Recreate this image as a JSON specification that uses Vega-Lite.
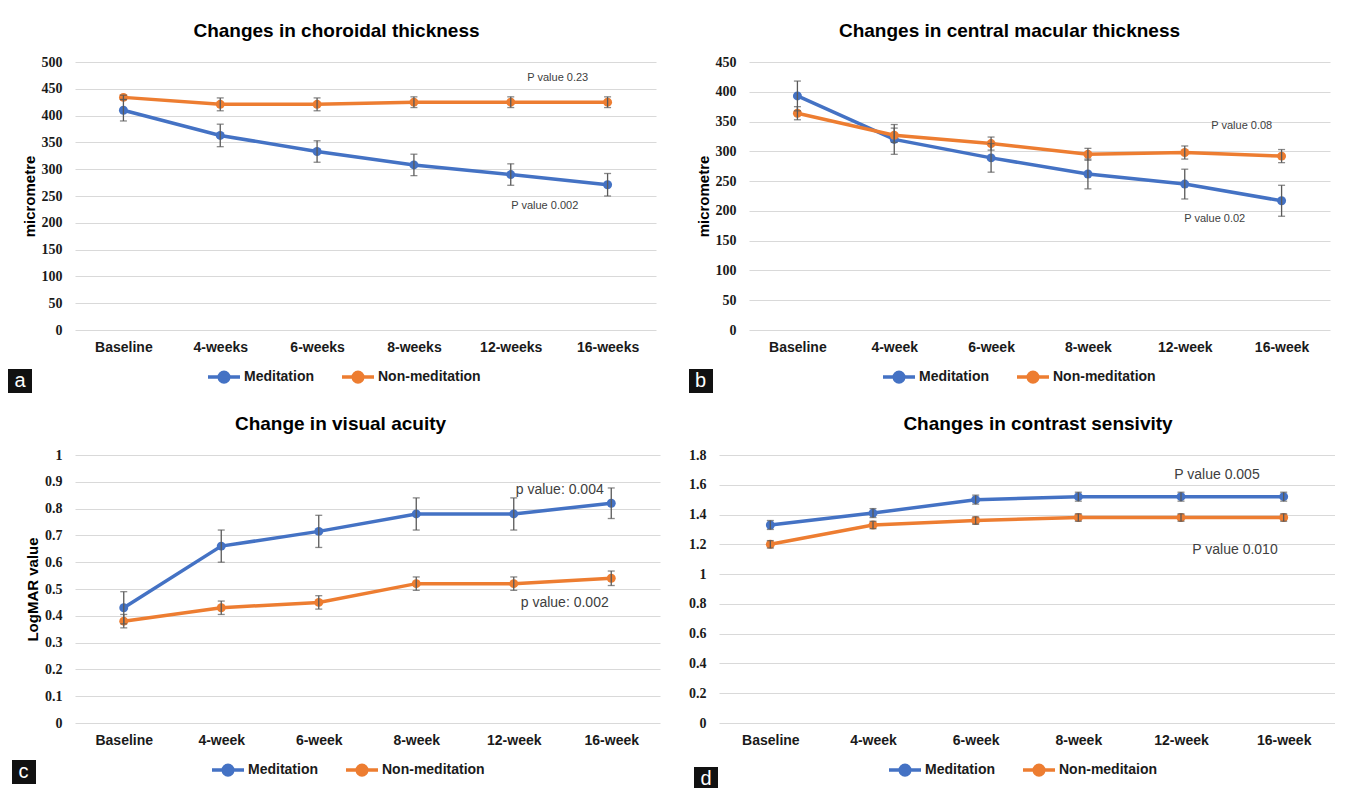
{
  "$schema": "https://vega.github.io/schema/vega-lite/v6.json",
  "background": "white",
  "padding": {"left": 8, "top": 22, "right": 0, "bottom": 0},
  "spacing": 22,
  "config": {
    "font": "Liberation Sans",
    "view": {"stroke": null},
    "title": {"fontSize": 19, "font": "Liberation Sans", "fontWeight": "bold", "color": "#000000", "anchor": "middle", "offset": 14},
    "axisY": {"labelFont": "Liberation Serif", "labelFontWeight": "bold", "labelFontSize": 14, "labelColor": "#1a1a1a", "domain": false, "ticks": false, "labelPadding": 13, "gridColor": "#D9D9D9", "gridWidth": 1.2, "titleFont": "Liberation Sans", "titleFontSize": 15, "titleFontWeight": "bold", "titleColor": "#000000", "titlePadding": 4},
    "axisX": {"labelFont": "Liberation Sans", "labelFontWeight": "bold", "labelFontSize": 14, "labelColor": "#1a1a1a", "labelAngle": 0, "domain": false, "ticks": false, "grid": false, "labelPadding": 10, "title": null}
  },
  "resolve": {"scale": {"color": "independent", "opacity": "independent", "x": "independent", "y": "independent"}, "legend": {"color": "independent", "opacity": "independent"}},
  "vconcat": [
    {
      "spacing": 33,
      "resolve": {"scale": {"color": "independent", "opacity": "independent", "x": "independent", "y": "independent"}, "legend": {"color": "independent", "opacity": "independent"}},
      "hconcat": [
        {
          "width": 581, "height": 268,
          "title": {"text": "Changes in choroidal thickness", "dx": -29},
          "data": {"values": [
            {"t": "Baseline", "g": "Meditation", "v": 410, "e": 20, "p": "a"},
            {"t": "4-weeks", "g": "Meditation", "v": 363, "e": 21, "p": "a"},
            {"t": "6-weeks", "g": "Meditation", "v": 333, "e": 20, "p": "a"},
            {"t": "8-weeks", "g": "Meditation", "v": 308, "e": 20, "p": "a"},
            {"t": "12-weeks", "g": "Meditation", "v": 290, "e": 20, "p": "a"},
            {"t": "16-weeks", "g": "Meditation", "v": 271, "e": 21, "p": "a"},
            {"t": "Baseline", "g": "Non-meditation", "v": 434, "e": 4, "p": "a"},
            {"t": "4-weeks", "g": "Non-meditation", "v": 421, "e": 12, "p": "a"},
            {"t": "6-weeks", "g": "Non-meditation", "v": 421, "e": 12, "p": "a"},
            {"t": "8-weeks", "g": "Non-meditation", "v": 425, "e": 10, "p": "a"},
            {"t": "12-weeks", "g": "Non-meditation", "v": 425, "e": 10, "p": "a"},
            {"t": "16-weeks", "g": "Non-meditation", "v": 425, "e": 10, "p": "a"}
          ]},
          "encoding": {
            "x": {"field": "t", "type": "nominal", "sort": ["Baseline", "4-weeks", "6-weeks", "8-weeks", "12-weeks", "16-weeks"], "scale": {"type": "point", "padding": 0.5}},
            "y": {"field": "v", "type": "quantitative", "scale": {"domain": [0, 500]}, "axis": {"title": "micrometre", "values": [0, 50, 100, 150, 200, 250, 300, 350, 400, 450, 500]}}
          },
          "layer": [
            {"mark": {"type": "line", "strokeWidth": 3.5}, "encoding": {"color": {"field": "g", "type": "nominal", "scale": {"domain": ["Meditation", "Non-meditation"], "range": ["#4472C4", "#ED7D31"]}, "legend": {"orient": "none", "legendX": 131, "legendY": 297, "direction": "horizontal", "title": null, "symbolType": "M-1,0L1,0M-0.3,0A0.3,0.3,0,1,1,0.3,0A0.3,0.3,0,1,1,-0.3,0Z", "symbolSize": 1024, "symbolStrokeWidth": 3.5, "symbolOpacity": 1, "labelFontSize": 14, "labelFontWeight": "bold", "labelFont": "Liberation Sans", "labelColor": "#1a1a1a", "labelOffset": 2, "columnPadding": 21, "padding": 0, "encode": {"symbols": {"update": {"opacity": {"value": 1}}}}}}}},
            {"mark": {"type": "point", "filled": true, "size": 80, "opacity": 1}, "encoding": {"color": {"field": "g", "type": "nominal", "scale": {"domain": ["Meditation", "Non-meditation"], "range": ["#4472C4", "#ED7D31"]}, "legend": {"orient": "none", "legendX": 131, "legendY": 297, "direction": "horizontal", "title": null, "symbolType": "M-1,0L1,0M-0.3,0A0.3,0.3,0,1,1,0.3,0A0.3,0.3,0,1,1,-0.3,0Z", "symbolSize": 1024, "symbolStrokeWidth": 3.5, "symbolOpacity": 1, "labelFontSize": 14, "labelFontWeight": "bold", "labelFont": "Liberation Sans", "labelColor": "#1a1a1a", "labelOffset": 2, "columnPadding": 21, "padding": 0, "encode": {"symbols": {"update": {"opacity": {"value": 1}}}}}}, "opacity": {"field": "p", "type": "ordinal", "scale": {"range": [1, 1]}, "legend": {"orient": "none", "legendX": -67, "legendY": 307, "title": null, "symbolType": "square", "symbolSize": 576, "symbolFillColor": "#111111", "symbolStrokeColor": "#111111", "symbolStrokeWidth": 0, "labelOffset": -17.5, "padding": 0, "labelColor": "#ffffff", "labelFontSize": 20, "labelFont": "Liberation Sans", "encode": {"symbols": {"update": {"fill": {"value": "#111111"}, "stroke": {"value": "#111111"}, "opacity": {"value": 1}, "size": {"value": 576}, "shape": {"value": "square"}}}}}}}},
            {"mark": {"type": "errorbar", "ticks": true, "color": "#595959", "thickness": 1.3, "size": 7}, "encoding": {"yError": {"field": "e"}}},
            {"data": {"values": [{"t": "12-weeks", "v": 470, "label": "P value 0.23"}]}, "mark": {"type": "text", "dx": 47, "align": "center", "baseline": "middle", "fontSize": 11, "color": "#404040"}, "encoding": {"text": {"field": "label"}}},
            {"data": {"values": [{"t": "12-weeks", "v": 231, "label": "P value 0.002"}]}, "mark": {"type": "text", "dx": 34, "align": "center", "baseline": "middle", "fontSize": 11, "color": "#404040"}, "encoding": {"text": {"field": "label"}}}
          ]
        },
        {
          "width": 581, "height": 268,
          "title": {"text": "Changes in central macular thickness", "dx": -30},
          "data": {"values": [
            {"t": "Baseline", "g": "Meditation", "v": 393, "e": 25, "p": "b"},
            {"t": "4-week", "g": "Meditation", "v": 320, "e": 25, "p": "b"},
            {"t": "6-week", "g": "Meditation", "v": 289, "e": 24, "p": "b"},
            {"t": "8-week", "g": "Meditation", "v": 262, "e": 25, "p": "b"},
            {"t": "12-week", "g": "Meditation", "v": 245, "e": 25, "p": "b"},
            {"t": "16-week", "g": "Meditation", "v": 217, "e": 26, "p": "b"},
            {"t": "Baseline", "g": "Non-meditation", "v": 364, "e": 11, "p": "b"},
            {"t": "4-week", "g": "Non-meditation", "v": 327, "e": 12, "p": "b"},
            {"t": "6-week", "g": "Non-meditation", "v": 313, "e": 11, "p": "b"},
            {"t": "8-week", "g": "Non-meditation", "v": 295, "e": 10, "p": "b"},
            {"t": "12-week", "g": "Non-meditation", "v": 298, "e": 11, "p": "b"},
            {"t": "16-week", "g": "Non-meditation", "v": 292, "e": 11, "p": "b"}
          ]},
          "encoding": {
            "x": {"field": "t", "type": "nominal", "sort": ["Baseline", "4-week", "6-week", "8-week", "12-week", "16-week"], "scale": {"type": "point", "padding": 0.5}},
            "y": {"field": "v", "type": "quantitative", "scale": {"domain": [0, 450]}, "axis": {"title": "micrometre", "values": [0, 50, 100, 150, 200, 250, 300, 350, 400, 450]}}
          },
          "layer": [
            {"mark": {"type": "line", "strokeWidth": 3.5}, "encoding": {"color": {"field": "g", "type": "nominal", "scale": {"domain": ["Meditation", "Non-meditation"], "range": ["#4472C4", "#ED7D31"]}, "legend": {"orient": "none", "legendX": 132, "legendY": 297, "direction": "horizontal", "title": null, "symbolType": "M-1,0L1,0M-0.3,0A0.3,0.3,0,1,1,0.3,0A0.3,0.3,0,1,1,-0.3,0Z", "symbolSize": 1024, "symbolStrokeWidth": 3.5, "symbolOpacity": 1, "labelFontSize": 14, "labelFontWeight": "bold", "labelFont": "Liberation Sans", "labelColor": "#1a1a1a", "labelOffset": 2, "columnPadding": 21, "padding": 0, "encode": {"symbols": {"update": {"opacity": {"value": 1}}}}}}}},
            {"mark": {"type": "point", "filled": true, "size": 80, "opacity": 1}, "encoding": {"color": {"field": "g", "type": "nominal", "scale": {"domain": ["Meditation", "Non-meditation"], "range": ["#4472C4", "#ED7D31"]}, "legend": {"orient": "none", "legendX": 132, "legendY": 297, "direction": "horizontal", "title": null, "symbolType": "M-1,0L1,0M-0.3,0A0.3,0.3,0,1,1,0.3,0A0.3,0.3,0,1,1,-0.3,0Z", "symbolSize": 1024, "symbolStrokeWidth": 3.5, "symbolOpacity": 1, "labelFontSize": 14, "labelFontWeight": "bold", "labelFont": "Liberation Sans", "labelColor": "#1a1a1a", "labelOffset": 2, "columnPadding": 21, "padding": 0, "encode": {"symbols": {"update": {"opacity": {"value": 1}}}}}}, "opacity": {"field": "p", "type": "ordinal", "scale": {"range": [1, 1]}, "legend": {"orient": "none", "legendX": -60, "legendY": 307, "title": null, "symbolType": "square", "symbolSize": 576, "symbolFillColor": "#111111", "symbolStrokeColor": "#111111", "symbolStrokeWidth": 0, "labelOffset": -18, "padding": 0, "labelColor": "#ffffff", "labelFontSize": 20, "labelFont": "Liberation Sans", "encode": {"symbols": {"update": {"fill": {"value": "#111111"}, "stroke": {"value": "#111111"}, "opacity": {"value": 1}, "size": {"value": 576}, "shape": {"value": "square"}}}}}}}},
            {"mark": {"type": "errorbar", "ticks": true, "color": "#595959", "thickness": 1.3, "size": 7}, "encoding": {"yError": {"field": "e"}}},
            {"data": {"values": [{"t": "12-week", "v": 343, "label": "P value 0.08"}]}, "mark": {"type": "text", "dx": 57, "align": "center", "baseline": "middle", "fontSize": 11, "color": "#404040"}, "encoding": {"text": {"field": "label"}}},
            {"data": {"values": [{"t": "12-week", "v": 186, "label": "P value 0.02"}]}, "mark": {"type": "text", "dx": 30, "align": "center", "baseline": "middle", "fontSize": 11, "color": "#404040"}, "encoding": {"text": {"field": "label"}}}
          ]
        }
      ]
    },
    {
      "spacing": 28,
      "resolve": {"scale": {"color": "independent", "opacity": "independent", "x": "independent", "y": "independent"}, "legend": {"color": "independent", "opacity": "independent"}},
      "hconcat": [
        {
          "width": 585, "height": 268,
          "title": {"text": "Change in visual acuity", "dx": -27},
          "data": {"values": [
            {"t": "Baseline", "g": "Meditation", "v": 0.43, "e": 0.06, "p": "c"},
            {"t": "4-week", "g": "Meditation", "v": 0.66, "e": 0.06, "p": "c"},
            {"t": "6-week", "g": "Meditation", "v": 0.715, "e": 0.06, "p": "c"},
            {"t": "8-week", "g": "Meditation", "v": 0.78, "e": 0.06, "p": "c"},
            {"t": "12-week", "g": "Meditation", "v": 0.78, "e": 0.06, "p": "c"},
            {"t": "16-week", "g": "Meditation", "v": 0.82, "e": 0.057, "p": "c"},
            {"t": "Baseline", "g": "Non-meditation", "v": 0.38, "e": 0.025, "p": "c"},
            {"t": "4-week", "g": "Non-meditation", "v": 0.43, "e": 0.025, "p": "c"},
            {"t": "6-week", "g": "Non-meditation", "v": 0.45, "e": 0.025, "p": "c"},
            {"t": "8-week", "g": "Non-meditation", "v": 0.52, "e": 0.025, "p": "c"},
            {"t": "12-week", "g": "Non-meditation", "v": 0.52, "e": 0.025, "p": "c"},
            {"t": "16-week", "g": "Non-meditation", "v": 0.54, "e": 0.027, "p": "c"}
          ]},
          "encoding": {
            "x": {"field": "t", "type": "nominal", "sort": ["Baseline", "4-week", "6-week", "8-week", "12-week", "16-week"], "scale": {"type": "point", "padding": 0.5}},
            "y": {"field": "v", "type": "quantitative", "scale": {"domain": [0, 1]}, "axis": {"title": "LogMAR value", "format": "~g", "values": [0, 0.1, 0.2, 0.3, 0.4, 0.5, 0.6, 0.7, 0.8, 0.9, 1]}}
          },
          "layer": [
            {"mark": {"type": "line", "strokeWidth": 3.5}, "encoding": {"color": {"field": "g", "type": "nominal", "scale": {"domain": ["Meditation", "Non-meditation"], "range": ["#4472C4", "#ED7D31"]}, "legend": {"orient": "none", "legendX": 135, "legendY": 297, "direction": "horizontal", "title": null, "symbolType": "M-1,0L1,0M-0.3,0A0.3,0.3,0,1,1,0.3,0A0.3,0.3,0,1,1,-0.3,0Z", "symbolSize": 1024, "symbolStrokeWidth": 3.5, "symbolOpacity": 1, "labelFontSize": 14, "labelFontWeight": "bold", "labelFont": "Liberation Sans", "labelColor": "#1a1a1a", "labelOffset": 2, "columnPadding": 21, "padding": 0, "encode": {"symbols": {"update": {"opacity": {"value": 1}}}}}}}},
            {"mark": {"type": "point", "filled": true, "size": 80, "opacity": 1}, "encoding": {"color": {"field": "g", "type": "nominal", "scale": {"domain": ["Meditation", "Non-meditation"], "range": ["#4472C4", "#ED7D31"]}, "legend": {"orient": "none", "legendX": 135, "legendY": 297, "direction": "horizontal", "title": null, "symbolType": "M-1,0L1,0M-0.3,0A0.3,0.3,0,1,1,0.3,0A0.3,0.3,0,1,1,-0.3,0Z", "symbolSize": 1024, "symbolStrokeWidth": 3.5, "symbolOpacity": 1, "labelFontSize": 14, "labelFontWeight": "bold", "labelFont": "Liberation Sans", "labelColor": "#1a1a1a", "labelOffset": 2, "columnPadding": 21, "padding": 0, "encode": {"symbols": {"update": {"opacity": {"value": 1}}}}}}, "opacity": {"field": "p", "type": "ordinal", "scale": {"range": [1, 1]}, "legend": {"orient": "none", "legendX": -63, "legendY": 305, "title": null, "symbolType": "square", "symbolSize": 576, "symbolFillColor": "#111111", "symbolStrokeColor": "#111111", "symbolStrokeWidth": 0, "labelOffset": -17.5, "padding": 0, "labelColor": "#ffffff", "labelFontSize": 20, "labelFont": "Liberation Sans", "encode": {"symbols": {"update": {"fill": {"value": "#111111"}, "stroke": {"value": "#111111"}, "opacity": {"value": 1}, "size": {"value": 576}, "shape": {"value": "square"}}}}}}}},
            {"mark": {"type": "errorbar", "ticks": true, "color": "#595959", "thickness": 1.3, "size": 7}, "encoding": {"yError": {"field": "e"}}},
            {"data": {"values": [{"t": "12-week", "v": 0.87, "label": "p value: 0.004"}]}, "mark": {"type": "text", "dx": 46, "align": "center", "baseline": "middle", "fontSize": 14, "color": "#404040"}, "encoding": {"text": {"field": "label"}}},
            {"data": {"values": [{"t": "12-week", "v": 0.448, "label": "p value: 0.002"}]}, "mark": {"type": "text", "dx": 51, "align": "center", "baseline": "middle", "fontSize": 14, "color": "#404040"}, "encoding": {"text": {"field": "label"}}}
          ]
        },
        {
          "width": 616, "height": 268,
          "title": {"text": "Changes in contrast sensivity", "dx": 11},
          "data": {"values": [
            {"t": "Baseline", "g": "Meditation", "v": 1.33, "e": 0.03, "p": "d"},
            {"t": "4-week", "g": "Meditation", "v": 1.41, "e": 0.03, "p": "d"},
            {"t": "6-week", "g": "Meditation", "v": 1.5, "e": 0.03, "p": "d"},
            {"t": "8-week", "g": "Meditation", "v": 1.52, "e": 0.03, "p": "d"},
            {"t": "12-week", "g": "Meditation", "v": 1.52, "e": 0.03, "p": "d"},
            {"t": "16-week", "g": "Meditation", "v": 1.52, "e": 0.03, "p": "d"},
            {"t": "Baseline", "g": "Non-meditaion", "v": 1.2, "e": 0.025, "p": "d"},
            {"t": "4-week", "g": "Non-meditaion", "v": 1.33, "e": 0.025, "p": "d"},
            {"t": "6-week", "g": "Non-meditaion", "v": 1.36, "e": 0.025, "p": "d"},
            {"t": "8-week", "g": "Non-meditaion", "v": 1.38, "e": 0.025, "p": "d"},
            {"t": "12-week", "g": "Non-meditaion", "v": 1.38, "e": 0.025, "p": "d"},
            {"t": "16-week", "g": "Non-meditaion", "v": 1.38, "e": 0.025, "p": "d"}
          ]},
          "encoding": {
            "x": {"field": "t", "type": "nominal", "sort": ["Baseline", "4-week", "6-week", "8-week", "12-week", "16-week"], "scale": {"type": "point", "padding": 0.5}},
            "y": {"field": "v", "type": "quantitative", "scale": {"domain": [0, 1.8]}, "axis": {"title": null, "format": "~g", "values": [0, 0.2, 0.4, 0.6, 0.8, 1, 1.2, 1.4, 1.6, 1.8]}}
          },
          "layer": [
            {"mark": {"type": "line", "strokeWidth": 3.5}, "encoding": {"color": {"field": "g", "type": "nominal", "scale": {"domain": ["Meditation", "Non-meditaion"], "range": ["#4472C4", "#ED7D31"]}, "legend": {"orient": "none", "legendX": 168, "legendY": 297, "direction": "horizontal", "title": null, "symbolType": "M-1,0L1,0M-0.3,0A0.3,0.3,0,1,1,0.3,0A0.3,0.3,0,1,1,-0.3,0Z", "symbolSize": 1024, "symbolStrokeWidth": 3.5, "symbolOpacity": 1, "labelFontSize": 14, "labelFontWeight": "bold", "labelFont": "Liberation Sans", "labelColor": "#1a1a1a", "labelOffset": 2, "columnPadding": 21, "padding": 0, "encode": {"symbols": {"update": {"opacity": {"value": 1}}}}}}}},
            {"mark": {"type": "point", "filled": true, "size": 80, "opacity": 1}, "encoding": {"color": {"field": "g", "type": "nominal", "scale": {"domain": ["Meditation", "Non-meditaion"], "range": ["#4472C4", "#ED7D31"]}, "legend": {"orient": "none", "legendX": 168, "legendY": 297, "direction": "horizontal", "title": null, "symbolType": "M-1,0L1,0M-0.3,0A0.3,0.3,0,1,1,0.3,0A0.3,0.3,0,1,1,-0.3,0Z", "symbolSize": 1024, "symbolStrokeWidth": 3.5, "symbolOpacity": 1, "labelFontSize": 14, "labelFontWeight": "bold", "labelFont": "Liberation Sans", "labelColor": "#1a1a1a", "labelOffset": 2, "columnPadding": 21, "padding": 0, "encode": {"symbols": {"update": {"opacity": {"value": 1}}}}}}, "opacity": {"field": "p", "type": "ordinal", "scale": {"range": [1, 1]}, "legend": {"orient": "none", "legendX": -25, "legendY": 312, "title": null, "symbolType": "square", "symbolSize": 576, "symbolFillColor": "#111111", "symbolStrokeColor": "#111111", "symbolStrokeWidth": 0, "labelOffset": -17.5, "padding": 0, "labelColor": "#ffffff", "labelFontSize": 20, "labelFont": "Liberation Sans", "encode": {"symbols": {"update": {"fill": {"value": "#111111"}, "stroke": {"value": "#111111"}, "opacity": {"value": 1}, "size": {"value": 576}, "shape": {"value": "square"}}}}}}}},
            {"mark": {"type": "errorbar", "ticks": true, "color": "#595959", "thickness": 1.3, "size": 7}, "encoding": {"yError": {"field": "e"}}},
            {"data": {"values": [{"t": "12-week", "v": 1.667, "label": "P value 0.005"}]}, "mark": {"type": "text", "dx": 36, "align": "center", "baseline": "middle", "fontSize": 14, "color": "#404040"}, "encoding": {"text": {"field": "label"}}},
            {"data": {"values": [{"t": "12-week", "v": 1.162, "label": "P value 0.010"}]}, "mark": {"type": "text", "dx": 54, "align": "center", "baseline": "middle", "fontSize": 14, "color": "#404040"}, "encoding": {"text": {"field": "label"}}}
          ]
        }
      ]
    }
  ]
}
